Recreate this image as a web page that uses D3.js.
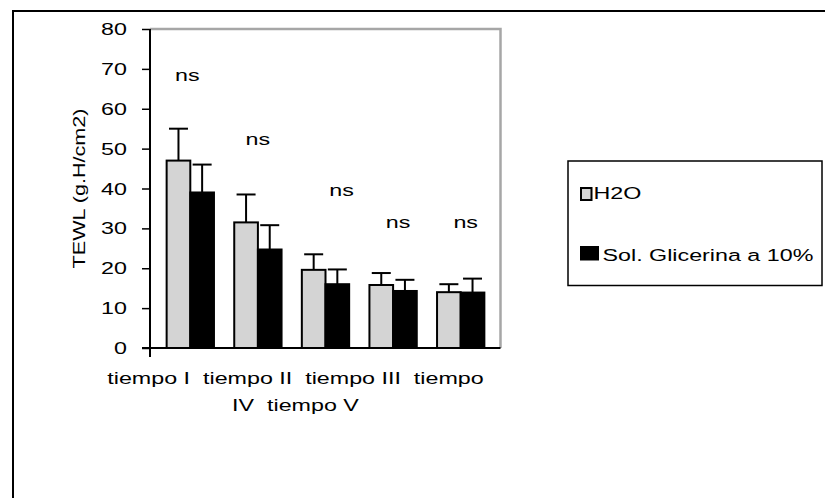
<!DOCTYPE html>
<html lang="es">
<head>
<meta charset="utf-8">
<script src="https://cdn.jsdelivr.net/npm/d3@7"></script>
<style>
  body { margin: 0; background: #fff; }
  svg text { font-family: "Liberation Sans", Arial, sans-serif; font-size: 17px; fill: #000; }
</style>
</head>
<body>
<svg width="825" height="498"></svg>
<script>
// data
var categories = ["tiempo I", "tiempo II", "tiempo III", "tiempo IV", "tiempo V"];
var seriesNames = ["H2O", "Sol. Glicerina a 10%"];
var h2o = [47, 31.5, 19.6, 15.8, 14.0];
var h2oErr = [8, 7, 3.9, 3.0, 2.0];
var glicerina = [39, 24.7, 16, 14.3, 13.9];
var glicerinaErr = [7, 6.1, 3.7, 2.8, 3.5];
var nsLevel = [67, 51, 38, 30, 30];   // baseline of the "ns" notes, in TEWL units
var yTicks = [0, 10, 20, 30, 40, 50, 60, 70, 80];

var colors = ["#d4d4d4", "#000000"];
var sx = 1.37; // text in the original is wide

var svg = d3.select("svg");

svg.append("rect").attr("width", 825).attr("height", 498).attr("fill", "#fff");
// chart area border, runs off the right & bottom
svg.append("rect")
  .attr("x", 13).attr("y", 11).attr("width", 900).attr("height", 600)
  .attr("fill", "none").attr("stroke", "#000").attr("stroke-width", 2);

var pL = 150, pR = 500.5, pT = 29, pB = 348;

var y = d3.scaleLinear().domain([0, 80]).range([pB, pT]);
var x = d3.scaleBand().domain(categories).range([156.5, 494.5])
  .paddingInner(0.3).paddingOuter(0.15);
var xs = d3.scaleBand().domain([0, 1]).range([0, x.bandwidth()]);

// grey plot frame (top + right)
svg.append("path")
  .attr("d", "M" + pL + "," + pT + "H" + pR + "V" + pB)
  .attr("fill", "none").attr("stroke", "#a6a6a6").attr("stroke-width", 2.5);

var rows = categories.map(function(c, i) {
  return { cat: c, vals: [ {s: 0, v: h2o[i], e: h2oErr[i]}, {s: 1, v: glicerina[i], e: glicerinaErr[i]} ] };
});

var grp = svg.selectAll(".grp").data(rows).enter().append("g")
  .attr("transform", function(d) { return "translate(" + x(d.cat) + ",0)"; });

var bars = grp.selectAll(".bar").data(function(d) { return d.vals; }).enter();

// error bars (upper only)
bars.append("line")
  .attr("x1", function(d) { return xs(d.s) + xs.bandwidth() / 2; })
  .attr("x2", function(d) { return xs(d.s) + xs.bandwidth() / 2; })
  .attr("y1", function(d) { return y(d.v); })
  .attr("y2", function(d) { return y(d.v + d.e); })
  .attr("stroke", "#000").attr("stroke-width", 2);
bars.append("line")
  .attr("x1", function(d) { return xs(d.s) + xs.bandwidth() / 2 - 9.5; })
  .attr("x2", function(d) { return xs(d.s) + xs.bandwidth() / 2 + 9.5; })
  .attr("y1", function(d) { return y(d.v + d.e); })
  .attr("y2", function(d) { return y(d.v + d.e); })
  .attr("stroke", "#000").attr("stroke-width", 2);

bars.append("rect")
  .attr("x", function(d) { return xs(d.s); })
  .attr("y", function(d) { return y(d.v); })
  .attr("width", xs.bandwidth())
  .attr("height", function(d) { return y(0) - y(d.v); })
  .attr("fill", function(d) { return colors[d.s]; })
  .attr("stroke", "#000").attr("stroke-width", 2);

// axes
var yAxis = svg.append("g").attr("transform", "translate(" + pL + ",0)")
  .call(d3.axisLeft(y).tickValues(yTicks).tickSize(8).tickSizeOuter(0));
yAxis.select(".domain").remove();
yAxis.selectAll("line").attr("stroke", "#000").attr("stroke-width", 1.5);
yAxis.selectAll("text")
  .attr("x", null).attr("dy", "0.33em")
  .attr("transform", "translate(-23,0) scale(" + sx + ",1)")
  .style("font-size", "17px").style("font-family", "Liberation Sans, Arial, sans-serif");

svg.append("line").attr("x1", pL).attr("x2", pL).attr("y1", pT).attr("y2", pB + 9)
  .attr("stroke", "#000").attr("stroke-width", 2);
svg.append("line").attr("x1", pL - 8).attr("x2", pR).attr("y1", pB).attr("y2", pB)
  .attr("stroke", "#000").attr("stroke-width", 2);

function wideText(sel, tx, ty, anchor, txt) {
  return sel.append("text")
    .attr("transform", "translate(" + tx + "," + ty + ") scale(" + sx + ",1)")
    .attr("text-anchor", anchor)
    .text(txt);
}

// "ns" notes
var nsShift = [-3, 0, 16, 5, 5];
categories.forEach(function(c, i) {
  wideText(svg, x(c) + x.bandwidth() / 2 + nsShift[i], y(nsLevel[i]), "middle", "ns");
});

// category labels, wrapped the way the original wraps them
var words = categories.join("  ").split(" ");
var maxW = 382, lines = [], cur = [];
var probe = svg.append("text").attr("xml:space", "preserve");
words.forEach(function(w) {
  var test = cur.concat([w]).join(" ");
  probe.text(test);
  if (probe.node().getComputedTextLength() * sx > maxW && cur.length) {
    lines.push(cur.join(" ").trim());
    cur = [w];
  } else {
    cur.push(w);
  }
});
lines.push(cur.join(" ").trim());
probe.remove();
lines.forEach(function(l, i) {
  wideText(svg, 295.5, 384 + i * 26.7, "middle", l).attr("xml:space", "preserve").style("white-space", "pre");
});

// y title
svg.append("text")
  .attr("transform", "translate(85," + (pT + pB) / 2 + ") rotate(-90) scale(1.27,1)")
  .attr("text-anchor", "middle")
  .text("TEWL (g.H/cm2)");

// legend
var lg = svg.append("g");
lg.append("rect").attr("x", 568).attr("y", 161).attr("width", 254).attr("height", 124.5)
  .attr("fill", "#fff").attr("stroke", "#000").attr("stroke-width", 1.5);
lg.append("rect").attr("x", 581).attr("y", 188).attr("width", 10.5).attr("height", 12)
  .attr("fill", colors[0]).attr("stroke", "#000").attr("stroke-width", 2);
lg.append("rect").attr("x", 580).attr("y", 246).attr("width", 19).attr("height", 14.5)
  .attr("fill", colors[1]);
wideText(lg, 593.5, 199, "start", seriesNames[0]);
wideText(lg, 602.5, 260.5, "start", seriesNames[1]);
</script>
</body>
</html>
